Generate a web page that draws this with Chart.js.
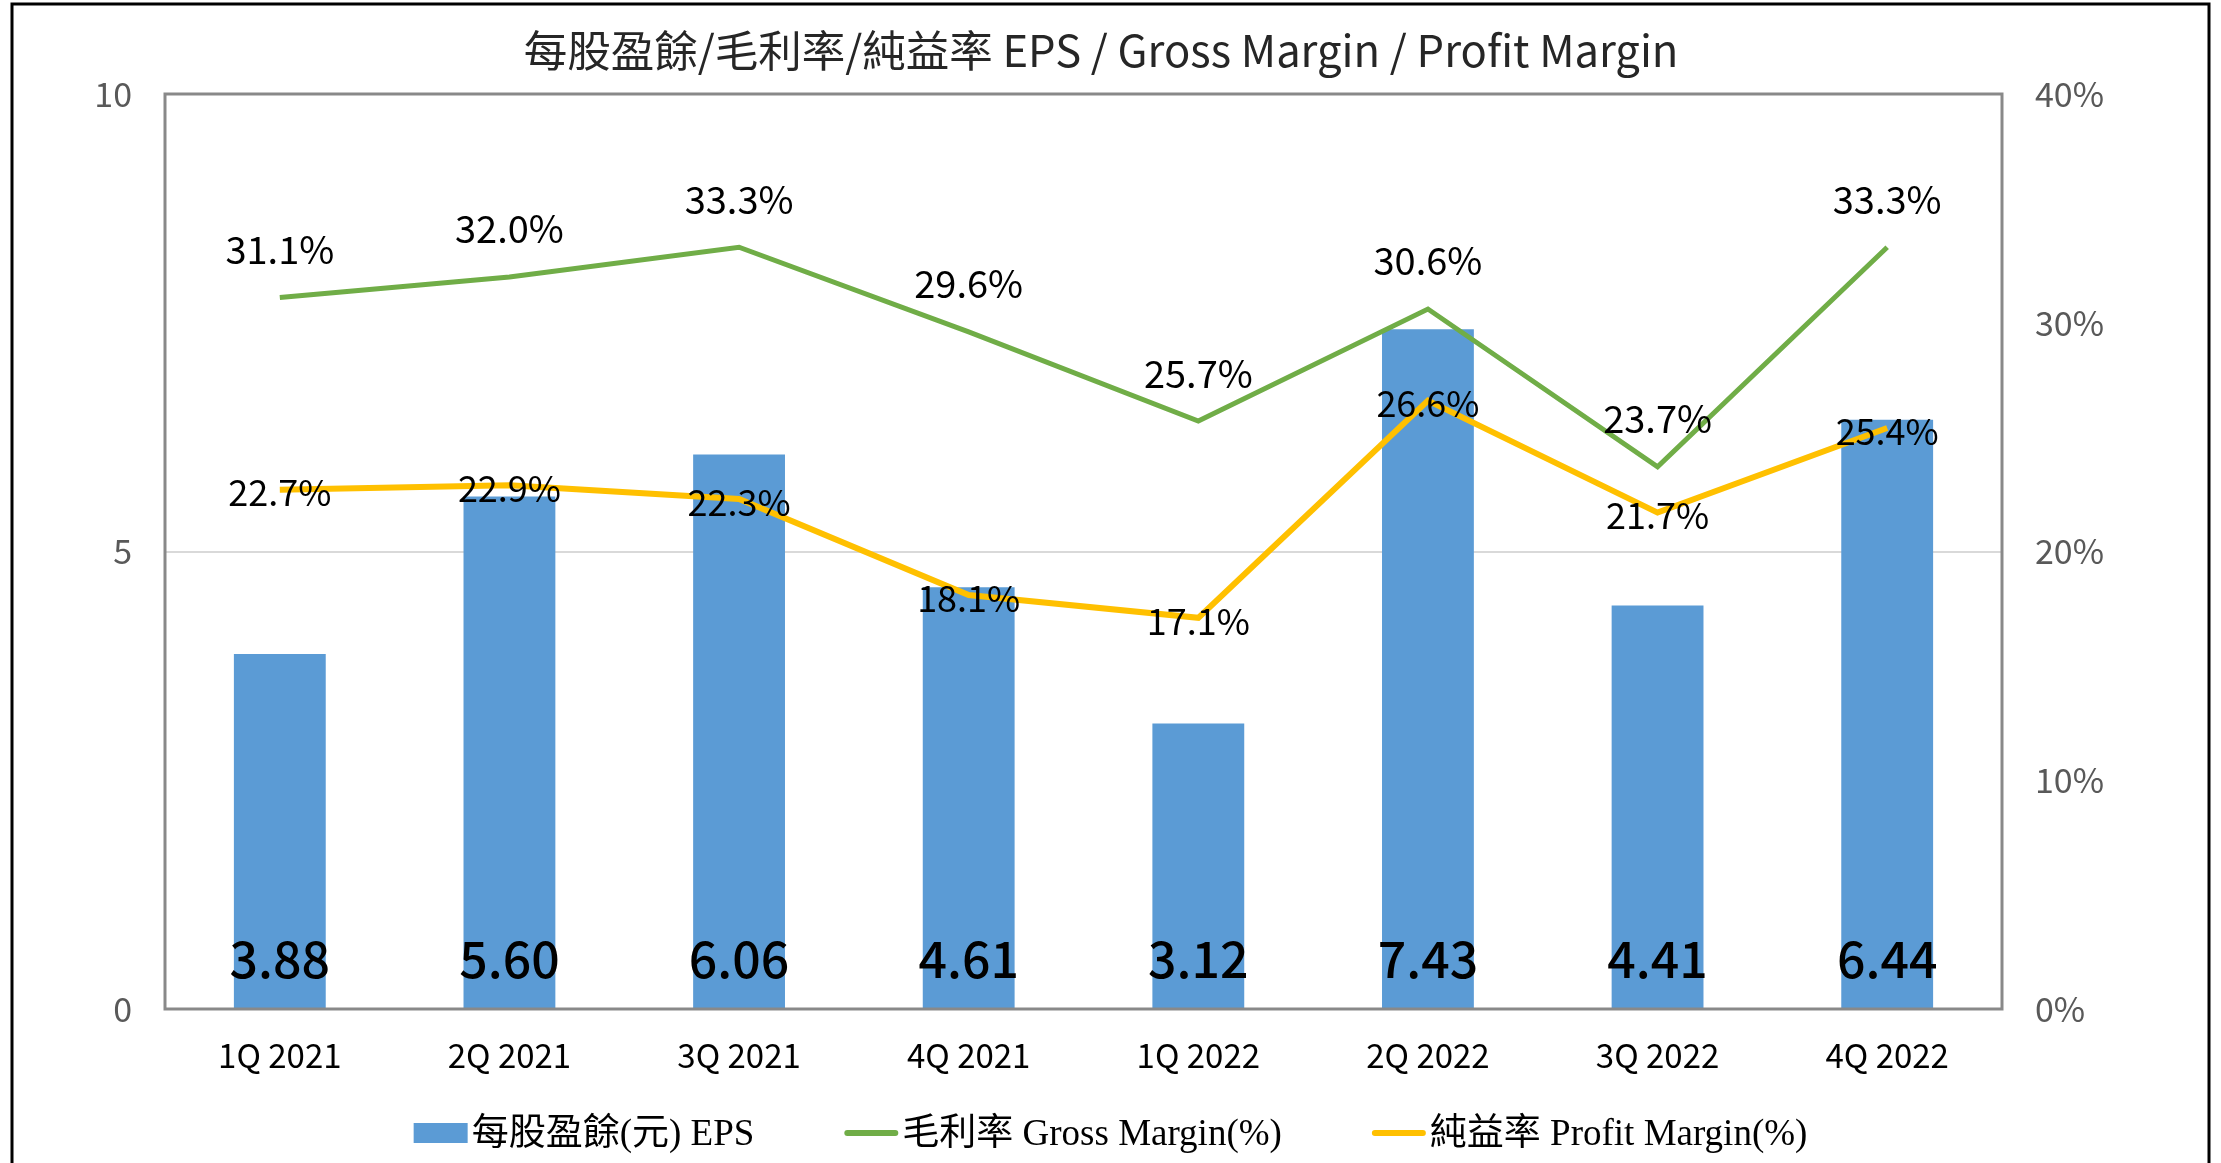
<!DOCTYPE html>
<html>
<head>
<meta charset="utf-8">
<script src="https://cdn.jsdelivr.net/npm/chart.js@4.4.1/dist/chart.umd.min.js"></script>
<style>
  body { margin: 0; background: #fff; }
  canvas { display: block; }
</style>
</head>
<body>
<canvas id="epsChart" width="2221" height="1163"></canvas>
<script>
const quarters = ['1Q 2021', '2Q 2021', '3Q 2021', '4Q 2021', '1Q 2022', '2Q 2022', '3Q 2022', '4Q 2022'];
const eps = [3.88, 5.60, 6.06, 4.61, 3.12, 7.43, 4.41, 6.44];
const grossMargin = [31.1, 32.0, 33.3, 29.6, 25.7, 30.6, 23.7, 33.3];
const profitMargin = [22.7, 22.9, 22.3, 18.1, 17.1, 26.6, 21.7, 25.4];
const seriesNames = ['每股盈餘(元) EPS', '毛利率 Gross Margin(%)', '純益率 Profit Margin(%)'];
const titleText = '每股盈餘/毛利率/純益率 EPS / Gross Margin / Profit Margin';

const BLUE = '#5b9bd5';
const GREEN = '#70ad47';
const GOLD = '#ffc000';
const SANS = '"Noto Sans CJK TC", "Noto Sans", sans-serif';
const SERIF = '"Liberation Serif", "Noto Sans CJK TC", serif';

Chart.defaults.font.family = SANS;

// frame, title, plot border, value labels and legend are painted here
const decorations = {
  id: 'decorations',
  beforeDraw(chart) {
    const ctx = chart.ctx;
    ctx.save();
    ctx.fillStyle = '#fff';
    ctx.fillRect(0, 0, chart.width, chart.height);
    ctx.strokeStyle = '#000';
    ctx.lineWidth = 3;
    ctx.strokeRect(12, 4, chart.width - 24, chart.height + 20);

    ctx.fillStyle = '#262626';
    ctx.font = '43.5px ' + SANS;
    ctx.textAlign = 'center';
    ctx.textBaseline = 'middle';
    ctx.fillText(titleText, 1101, 50);
    ctx.restore();
  },
  afterDatasetsDraw(chart) {
    const ctx = chart.ctx;
    const area = chart.chartArea;
    ctx.save();
    ctx.strokeStyle = '#898989';
    ctx.lineWidth = 3;
    ctx.strokeRect(area.left, area.top, area.right - area.left, area.bottom - area.top);

    ctx.fillStyle = '#000';
    ctx.textAlign = 'center';

    // EPS values sit along the bottom of each bar
    const y0 = chart.scales.y.getPixelForValue(0);
    ctx.font = '500 50px ' + SANS;
    ctx.textBaseline = 'alphabetic';
    chart.getDatasetMeta(0).data.forEach((bar, i) => {
      ctx.fillText(eps[i].toFixed(2), bar.x, y0 - 31);
    });

    ctx.font = '38px ' + SANS;
    ctx.textBaseline = 'middle';
    chart.getDatasetMeta(1).data.forEach((pt, i) => {
      ctx.fillText(grossMargin[i].toFixed(1) + '%', pt.x, pt.y - 48);
    });

    ctx.font = '36px ' + SANS;
    chart.getDatasetMeta(2).data.forEach((pt, i) => {
      ctx.fillText(profitMargin[i].toFixed(1) + '%', pt.x, pt.y + 3);
    });
    ctx.restore();
  },
  afterDraw(chart) {
    const ctx = chart.ctx;
    ctx.save();
    ctx.font = '37px ' + SERIF;
    ctx.textBaseline = 'middle';
    ctx.textAlign = 'left';
    const markW = 54, markGap = 4, itemGap = 90, y = 1133;
    const widths = seriesNames.map(s => ctx.measureText(s).width);
    const total = widths.reduce((a, w) => a + markW + markGap + w, 0) + itemGap * (seriesNames.length - 1);
    let x = (chart.width - total) / 2;
    const colors = [BLUE, GREEN, GOLD];
    seriesNames.forEach((name, i) => {
      if (i === 0) {
        ctx.fillStyle = colors[i];
        ctx.fillRect(x, y - 10, markW, 20);
      } else {
        ctx.strokeStyle = colors[i];
        ctx.lineWidth = 6;
        ctx.lineCap = 'round';
        ctx.beginPath();
        ctx.moveTo(x + 3, y);
        ctx.lineTo(x + markW - 3, y);
        ctx.stroke();
      }
      ctx.fillStyle = '#000';
      ctx.fillText(name, x + markW + markGap, y + 2);
      x += markW + markGap + widths[i] + itemGap;
    });
    ctx.restore();
  }
};

new Chart(document.getElementById('epsChart'), {
  type: 'bar',
  data: {
    labels: quarters,
    datasets: [
      {
        type: 'bar',
        label: seriesNames[0],
        data: eps,
        backgroundColor: BLUE,
        yAxisID: 'y',
        barPercentage: 0.4,
        categoryPercentage: 1,
        order: 3
      },
      {
        type: 'line',
        label: seriesNames[1],
        data: grossMargin,
        borderColor: GREEN,
        borderWidth: 5,
        pointRadius: 0,
        tension: 0,
        yAxisID: 'y1',
        order: 2
      },
      {
        type: 'line',
        label: seriesNames[2],
        data: profitMargin,
        borderColor: GOLD,
        borderWidth: 6,
        pointRadius: 0,
        tension: 0,
        yAxisID: 'y1',
        order: 1
      }
    ]
  },
  options: {
    responsive: false,
    animation: false,
    layout: { padding: { top: 94, left: 0, right: 0, bottom: 0 } },
    plugins: {
      legend: { display: false },
      title: { display: false },
      tooltip: { enabled: false }
    },
    scales: {
      x: {
        grid: { display: false, drawTicks: false },
        border: { display: false },
        ticks: { color: '#000', font: { size: 33 }, padding: 27 },
        afterFit(scale) { scale.height = 154; }
      },
      y: {
        position: 'left',
        min: 0,
        max: 10,
        ticks: { stepSize: 5, color: '#595959', font: { size: 34 }, padding: 33 },
        grid: {
          drawTicks: false,
          lineWidth: 2,
          color: ctx => (ctx.tick && ctx.tick.value === 5 ? '#d9d9d9' : 'rgba(0,0,0,0)')
        },
        border: { display: false },
        afterFit(scale) { scale.width = 165; }
      },
      y1: {
        position: 'right',
        min: 0,
        max: 40,
        ticks: {
          stepSize: 10,
          color: '#595959',
          font: { size: 34 },
          padding: 33,
          callback: v => v + '%'
        },
        grid: { display: false, drawTicks: false },
        border: { display: false },
        afterFit(scale) { scale.width = 219; }
      }
    }
  },
  plugins: [decorations]
});
</script>
</body>
</html>
